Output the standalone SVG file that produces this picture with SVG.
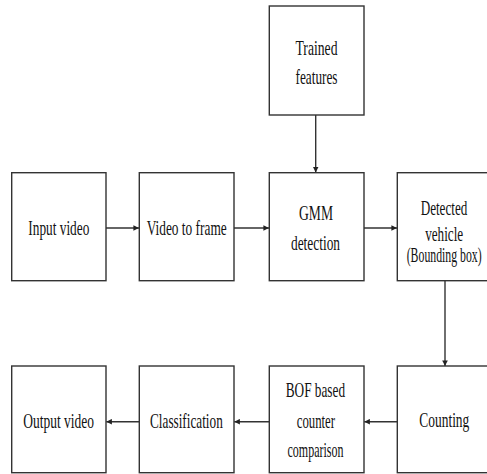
<svg xmlns="http://www.w3.org/2000/svg" width="487" height="474" viewBox="0 0 487 474">
<style>
.box{fill:#fff;stroke:#333;stroke-width:1.4}
.t{font-family:"Liberation Serif","Times New Roman",serif;font-size:21px;fill:#111;text-anchor:middle}
.c{stroke:#333;stroke-width:1.4;fill:none;marker-end:url(#ah)}
</style>
<defs>
<marker id="ah" viewBox="0 0 6 6" refX="6" refY="3" markerWidth="4" markerHeight="4" orient="auto" markerUnits="strokeWidth">
<path d="M0,0 L6,3 L0,6 Z" fill="#222"/>
</marker>
</defs>
<rect width="487" height="474" fill="#fff"/>
<g id="connectors">
<line class="c" x1="106" y1="228" x2="139" y2="228"/>
<line class="c" x1="234" y1="228" x2="269" y2="228"/>
<line class="c" x1="364" y1="228" x2="397" y2="228"/>
<line class="c" x1="315.7" y1="115" x2="315.7" y2="172.5"/>
<line class="c" x1="445" y1="280.7" x2="445" y2="366"/>
<line class="c" x1="397.3" y1="421.7" x2="364.3" y2="421.7"/>
<line class="c" x1="269.3" y1="421.7" x2="234.3" y2="421.7"/>
<line class="c" x1="139.3" y1="421.7" x2="106.3" y2="421.7"/>
</g>
<g id="trained">
<rect class="box" x="269.3" y="6" width="94.7" height="109"/>
<text class="t" x="316.5" y="55" textLength="42" lengthAdjust="spacingAndGlyphs">Trained</text>
<text class="t" x="316.5" y="84" textLength="42" lengthAdjust="spacingAndGlyphs">features</text>
</g>
<g id="input">
<rect class="box" x="11.7" y="172.7" width="94.3" height="108"/>
<text class="t" x="58.8" y="235" textLength="61" lengthAdjust="spacingAndGlyphs">Input video</text>
</g>
<g id="v2f">
<rect class="box" x="139.3" y="172.7" width="94.7" height="108"/>
<text class="t" x="186.7" y="235" textLength="80" lengthAdjust="spacingAndGlyphs">Video to frame</text>
</g>
<g id="gmm">
<rect class="box" x="269.3" y="172.7" width="94.7" height="108"/>
<text class="t" x="316" y="220" textLength="34" lengthAdjust="spacingAndGlyphs">GMM</text>
<text class="t" x="315.5" y="250" textLength="49" lengthAdjust="spacingAndGlyphs">detection</text>
</g>
<g id="detected">
<rect class="box" x="397.3" y="172.7" width="93.4" height="108"/>
<text class="t" x="444" y="215" textLength="46.7" lengthAdjust="spacingAndGlyphs">Detected</text>
<text class="t" x="444.2" y="241" textLength="38" lengthAdjust="spacingAndGlyphs">vehicle</text>
<text class="t" x="444.2" y="262" textLength="75" lengthAdjust="spacingAndGlyphs">(Bounding box)</text>
</g>
<g id="output">
<rect class="box" x="11.7" y="366" width="94.3" height="106.7"/>
<text class="t" x="58.7" y="428.3" textLength="70.7" lengthAdjust="spacingAndGlyphs">Output video</text>
</g>
<g id="classification">
<rect class="box" x="139.3" y="366" width="94.7" height="106.7"/>
<text class="t" x="186.4" y="428.3" textLength="72.7" lengthAdjust="spacingAndGlyphs">Classification</text>
</g>
<g id="bof">
<rect class="box" x="269.3" y="366" width="94.7" height="106.7"/>
<text class="t" x="315.4" y="397" textLength="59.3" lengthAdjust="spacingAndGlyphs">BOF based</text>
<text class="t" x="315.9" y="428" textLength="38.3" lengthAdjust="spacingAndGlyphs">counter</text>
<text class="t" x="315.5" y="457" textLength="56" lengthAdjust="spacingAndGlyphs">comparison</text>
</g>
<g id="counting">
<rect class="box" x="397.3" y="366" width="93.4" height="106.7"/>
<text class="t" x="444.3" y="426.7" textLength="50" lengthAdjust="spacingAndGlyphs">Counting</text>
</g>
</svg>
